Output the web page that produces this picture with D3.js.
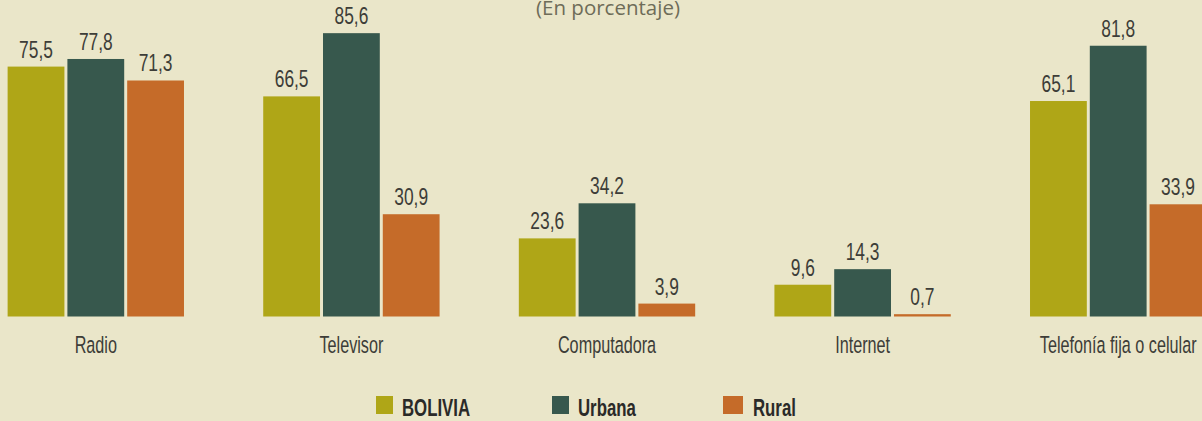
<!DOCTYPE html>
<html>
<head>
<meta charset="utf-8">
<script src="https://cdn.jsdelivr.net/npm/d3@7"></script>
<style>
  html, body { margin: 0; padding: 0; background: #eae6c9; }
  svg { display: block; }
  .cond { font-family: "Liberation Sans", Arial, sans-serif; }
</style>
</head>
<body>
<svg id="chart" width="1202" height="421"></svg>
<script>
const categories = ['Radio', 'Televisor', 'Computadora', 'Internet', 'Telefonía fija o celular']
const seriesNames = ['BOLIVIA', 'Urbana', 'Rural']
const bolivia = [75.5, 66.5, 23.6, 9.6, 65.1]
const urbana = [77.8, 85.6, 34.2, 14.3, 81.8]
const rural = [71.3, 30.9, 3.9, 0.7, 33.9]
const colors = ['#afa617', '#37584d', '#c56b29']

const series = [bolivia, urbana, rural]

function drawChart() {
  const svg = d3.select('#chart')
  const baseY = 316.5

  const fmt = v => v.toFixed(1).replace('.', ',')
  // no condensed font installed, so squeeze a regular one
  const squeeze = (x, y, k) => `translate(${x},${y}) scale(${k},1)`

  const x0 = d3.scaleBand()
    .domain(categories)
    .range([-32, 1246])
    .paddingInner(0.31)
    .paddingOuter(0.155)

  const x1 = d3.scaleBand()
    .domain(seriesNames)
    .range([0, x0.bandwidth()])
    .paddingInner(0.05)

  const y = d3.scaleLinear()
    .domain([0, 100])
    .range([baseY, baseY - 331])

  // title, its top is clipped in the original
  svg.append('text')
    .attr('x', 608)
    .attr('y', 15)
    .attr('text-anchor', 'middle')
    .attr('fill', '#6e6c58')
    .style('font-family', '"Open Sans", "Liberation Sans", sans-serif')
    .style('font-size', '20.5px')
    .text('(En porcentaje)')

  const groups = svg.selectAll('g.cat')
    .data(categories)
    .join('g')
    .attr('class', 'cat')
    .attr('transform', d => `translate(${x0(d)},0)`)

  groups.selectAll('rect')
    .data((d, i) => series.map((s, j) => ({ name: seriesNames[j], value: s[i], color: colors[j] })))
    .join('rect')
    .attr('x', d => x1(d.name))
    .attr('y', d => y(d.value))
    .attr('width', x1.bandwidth())
    .attr('height', d => baseY - y(d.value))
    .attr('fill', d => d.color)

  groups.selectAll('text.val')
    .data((d, i) => series.map((s, j) => ({ name: seriesNames[j], value: s[i] })))
    .join('text')
    .attr('class', 'val cond')
    .attr('transform', d => squeeze(x1(d.name) + x1.bandwidth() / 2, y(d.value) - 9, 0.74))
    .attr('text-anchor', 'middle')
    .attr('fill', '#3d3d38')
    .style('font-size', '23.5px')
    .text(d => fmt(d.value))

  // category labels
  svg.selectAll('text.catlab')
    .data(categories)
    .join('text')
    .attr('class', 'catlab cond')
    .attr('transform', d => squeeze(x0(d) + x0.bandwidth() / 2, 353, 0.69))
    .attr('text-anchor', 'middle')
    .attr('fill', '#3d3d38')
    .style('font-size', '23.5px')
    .text(d => d)

  // legend
  const legX = [376, 552, 723]
  const leg = svg.selectAll('g.leg')
    .data(seriesNames)
    .join('g')
    .attr('class', 'leg')
    .attr('transform', (d, i) => `translate(${legX[i]},396)`)

  leg.append('rect')
    .attr('width', (d, i) => i === 2 ? 20 : 17)
    .attr('height', 18)
    .attr('fill', (d, i) => colors[i])

  leg.append('text')
    .attr('class', 'cond')
    .attr('transform', (d, i) => squeeze(i === 2 ? 30 : 26, 20, 0.73))
    .attr('fill', '#2a2a28')
    .style('font-size', '23px')
    .style('font-weight', 'bold')
    .text(d => d)
}

document.addEventListener('DOMContentLoaded', drawChart, false)
</script>
</body>
</html>
